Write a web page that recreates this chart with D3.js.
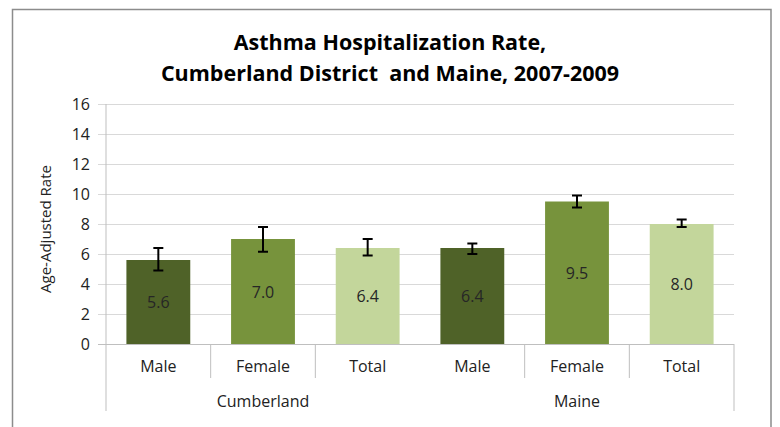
<!DOCTYPE html>
<html>
<head>
<meta charset="utf-8">
<script src="https://cdn.jsdelivr.net/npm/d3@7"></script>
<style>
  body { margin: 0; background: #fff; }
  svg { display: block; font-family: "Open Sans", sans-serif; }
</style>
</head>
<body>
<svg width="780" height="427"></svg>
<script>
// data
var groups = ["Cumberland", "Maine"];
var subgroups = ["Male", "Female", "Total"];
var rates = [5.6, 7.0, 6.4, 6.4, 9.5, 8.0];
var lowCI = [4.9, 6.15, 5.9, 6.0, 9.1, 7.8];
var highCI = [6.4, 7.8, 7.0, 6.7, 9.9, 8.3];
var yTicks = [0, 2, 4, 6, 8, 10, 12, 14, 16];

var colors = { Male: "#4f6228", Female: "#77933c", Total: "#c3d69b" };

var svg = d3.select("svg");

// outer frame
svg.append("path")
  .attr("d", "M12.5,430 V9.5 H771 V430")
  .attr("fill", "none")
  .attr("stroke", "#8c8c8c")
  .attr("stroke-width", 1.5);

// title (keeps the double space of the original)
var title = svg.append("text")
  .attr("text-anchor", "middle")
  .attr("font-size", 21.5)
  .attr("font-weight", "bold")
  .style("white-space", "pre")
  .attr("fill", "#000");
title.append("tspan").attr("x", 390).attr("y", 50).text("Asthma Hospitalization Rate,");
title.append("tspan").attr("x", 390).attr("y", 81).text("Cumberland District  and Maine, 2007-2009");

// plot area edges
var plotLeft = 106, plotRight = 734, plotTop = 104, plotBottom = 344;
var labelSize = 16;

// one entry per bar
var bars = [];
groups.forEach(function(g, gi) {
  subgroups.forEach(function(s, si) {
    var i = gi * subgroups.length + si;
    bars.push({ key: g + "-" + s, group: g, sub: s, value: rates[i], lo: lowCI[i], hi: highCI[i] });
  });
});

var x = d3.scaleBand()
  .domain(bars.map(function(d) { return d.key; }))
  .range([plotLeft, plotRight])
  .paddingInner(0.39)
  .paddingOuter(0.195);

var y = d3.scaleLinear().domain([0, 16]).range([plotBottom, plotTop]);

// gridlines + y axis
var yAxis = svg.append("g")
  .attr("transform", "translate(" + plotLeft + ",0)")
  .call(d3.axisLeft(y).tickValues(yTicks).tickSize(8).tickPadding(6));
yAxis.select(".domain").remove();
yAxis.selectAll(".tick line")
  .attr("x2", plotRight - plotLeft)
  .attr("x1", -8)
  .attr("stroke", function(d) { return d === 0 ? "#bfbfbf" : "#d9d9d9"; });
yAxis.selectAll(".tick text")
  .attr("font-size", labelSize)
  .attr("x", -16)
  .attr("fill", "#222")
  .attr("font-family", "'Open Sans', sans-serif");

// bars
svg.append("g").selectAll("rect")
  .data(bars)
  .enter().append("rect")
  .attr("x", function(d) { return x(d.key); })
  .attr("width", x.bandwidth())
  .attr("y", function(d) { return y(d.value); })
  .attr("height", function(d) { return y(0) - y(d.value); })
  .attr("fill", function(d) { return colors[d.sub]; });

// value labels in the middle of each bar
svg.append("g").selectAll("text")
  .data(bars)
  .enter().append("text")
  .attr("x", function(d) { return x(d.key) + x.bandwidth() / 2; })
  .attr("y", function(d) { return (y(d.value) + y(0)) / 2 + 6; })
  .attr("text-anchor", "middle")
  .attr("font-size", labelSize)
  .attr("fill", "#262626")
  .text(function(d) { return d.value.toFixed(1); });

// error bars
var err = svg.append("g").attr("stroke", "#000").attr("stroke-width", 2);
bars.forEach(function(d) {
  var cx = x(d.key) + x.bandwidth() / 2;
  err.append("line").attr("x1", cx).attr("x2", cx).attr("y1", y(d.lo)).attr("y2", y(d.hi));
  err.append("line").attr("x1", cx - 5).attr("x2", cx + 5).attr("y1", y(d.lo)).attr("y2", y(d.lo));
  err.append("line").attr("x1", cx - 5).attr("x2", cx + 5).attr("y1", y(d.hi)).attr("y2", y(d.hi));
});

// axis lines and category dividers
var axisColor = "#bfbfbf";
svg.append("line")
  .attr("x1", plotLeft).attr("x2", plotLeft).attr("y1", plotTop).attr("y2", 411)
  .attr("stroke", axisColor);
svg.append("line")
  .attr("x1", plotRight).attr("x2", plotRight).attr("y1", plotBottom).attr("y2", 411)
  .attr("stroke", axisColor);
var step = x.step();
bars.forEach(function(d, i) {
  var si = i % subgroups.length;
  if (si === 0) return;
  var bx = x(d.key) - (step - x.bandwidth()) / 2;
  svg.append("line")
    .attr("x1", bx).attr("x2", bx).attr("y1", plotBottom).attr("y2", 378)
    .attr("stroke", axisColor);
});

// sub-category labels
svg.append("g").selectAll("text")
  .data(bars)
  .enter().append("text")
  .attr("x", function(d) { return x(d.key) + x.bandwidth() / 2; })
  .attr("y", 372)
  .attr("text-anchor", "middle")
  .attr("font-size", labelSize)
  .attr("fill", "#222")
  .text(function(d) { return d.sub; });

// group labels
svg.append("g").selectAll("text")
  .data(groups)
  .enter().append("text")
  .attr("x", function(g) {
    var first = x(g + "-" + subgroups[0]), last = x(g + "-" + subgroups[subgroups.length - 1]);
    return (first + last + x.bandwidth()) / 2;
  })
  .attr("y", 407)
  .attr("text-anchor", "middle")
  .attr("font-size", labelSize)
  .attr("fill", "#222")
  .text(function(g) { return g; });

// y axis title
svg.append("text")
  .attr("transform", "translate(51,229) rotate(-90)")
  .attr("text-anchor", "middle")
  .attr("font-size", 15)
  .attr("fill", "#222")
  .text("Age-Adjusted Rate");
</script>
</body>
</html>
